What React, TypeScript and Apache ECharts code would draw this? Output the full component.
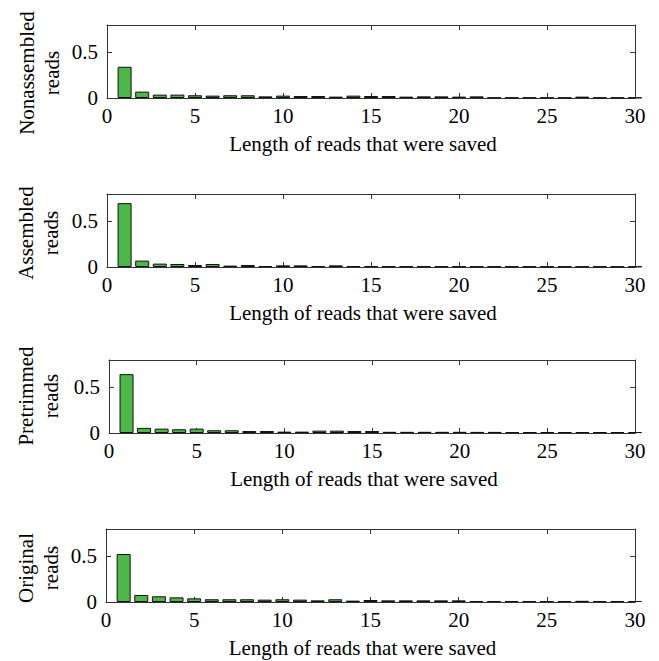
import React, { useEffect, useRef } from "react";
import * as echarts from "echarts";

const lengths = Array.from({ length: 30 }, (_, i) => i + 1);

const nonassembled = [0.342, 0.07, 0.037, 0.037, 0.03, 0.026, 0.03, 0.03, 0.018, 0.026, 0.022, 0.022, 0.015, 0.026, 0.022, 0.022, 0.015, 0.018, 0.018, 0.015, 0.018, 0.004, 0.004, 0.004, 0.004, 0.004, 0.015, 0.004, 0.004, 0.004];
const assembled = [0.70, 0.07, 0.037, 0.033, 0.022, 0.033, 0.015, 0.022, 0.011, 0.018, 0.018, 0.011, 0.018, 0.011, 0.011, 0.007, 0.007, 0.007, 0.007, 0.007, 0.006, 0.006, 0.006, 0.006, 0.006, 0.006, 0.005, 0.005, 0.005, 0.005];
const pretrimmed = [0.645, 0.056, 0.048, 0.041, 0.048, 0.03, 0.03, 0.022, 0.022, 0.015, 0.015, 0.026, 0.026, 0.022, 0.022, 0.013, 0.013, 0.013, 0.013, 0.013, 0.012, 0.012, 0.01, 0.01, 0.01, 0.01, 0.01, 0.01, 0.01, 0.01];
const original = [0.526, 0.077, 0.0625, 0.051, 0.04, 0.03, 0.03, 0.03, 0.026, 0.03, 0.026, 0.018, 0.03, 0.015, 0.022, 0.018, 0.018, 0.018, 0.018, 0.018, 0.011, 0.011, 0.011, 0.011, 0.011, 0.011, 0.013, 0.011, 0.011, 0.011];

const panelNames = ["Nonassembled\nreads", "Assembled\nreads", "Pretrimmed\nreads", "Original\nreads"];
const panelData = [nonassembled, assembled, pretrimmed, original];
const xTitle = "Length of reads that were saved";

const FONT = '"Liberation Serif", "DejaVu Serif", serif';
const AXIS_COLOR = "#333";
const BAR_COLOR = "#4BB847";
const FS = 21;

const grids = [
  { left: 107, top: 25, width: 528, height: 73 },
  { left: 107, top: 194, width: 528, height: 73 },
  { left: 109, top: 360, width: 526, height: 73 },
  { left: 106, top: 529, width: 529, height: 73 },
];
const nameCenters = [
  { x: 39, y: 73 },
  { x: 38, y: 233 },
  { x: 38, y: 396 },
  { x: 38, y: 568 },
];

export default function App() {
  const ref = useRef<HTMLDivElement>(null);

  useEffect(() => {
    if (!ref.current) return;
    const chart = echarts.init(ref.current, undefined, { renderer: "svg" });

    const xAxes: any[] = [];
    const yAxes: any[] = [];
    const series: any[] = [];
    const graphics: any[] = [];

    grids.forEach((g, i) => {
      xAxes.push({
        type: "value",
        gridIndex: i,
        min: 0,
        max: 30,
        interval: 5,
        position: "bottom",
        axisLine: { show: true, onZero: false, lineStyle: { color: AXIS_COLOR, width: 1 } },
        axisTick: { show: true, inside: true, length: 5, lineStyle: { color: AXIS_COLOR } },
        axisLabel: { show: true, margin: 7, color: "#000", fontSize: FS, fontFamily: FONT },
        splitLine: { show: false },
        name: xTitle,
        nameLocation: "middle",
        nameGap: 35,
        nameTextStyle: { color: "#000", fontSize: FS, fontFamily: FONT, padding: [0, 16, 0, 0] },
      });
      xAxes.push({
        type: "value",
        gridIndex: i,
        min: 0,
        max: 30,
        interval: 5,
        position: "top",
        axisLine: { show: true, onZero: false, lineStyle: { color: AXIS_COLOR, width: 1 } },
        axisTick: { show: true, inside: true, length: 5, lineStyle: { color: AXIS_COLOR } },
        axisLabel: { show: false },
        splitLine: { show: false },
      });
      const yFmt = (v: number) => (v === 0 ? "0" : Math.abs(v - 0.5) < 1e-9 ? "0.5" : "");
      yAxes.push({
        type: "value",
        gridIndex: i,
        min: 0,
        max: 0.8,
        interval: 0.5,
        position: "left",
        axisLine: { show: true, onZero: false, lineStyle: { color: AXIS_COLOR, width: 1 } },
        axisTick: { show: true, inside: true, length: 5, lineStyle: { color: AXIS_COLOR } },
        axisLabel: { show: true, margin: 9, color: "#000", fontSize: FS, fontFamily: FONT, formatter: yFmt, showMaxLabel: false },
        splitLine: { show: false },
      });
      yAxes.push({
        type: "value",
        gridIndex: i,
        min: 0,
        max: 0.8,
        interval: 0.5,
        position: "right",
        axisLine: { show: true, onZero: false, lineStyle: { color: AXIS_COLOR, width: 1 } },
        axisTick: { show: true, inside: true, length: 5, lineStyle: { color: AXIS_COLOR } },
        axisLabel: { show: false },
        splitLine: { show: false },
      });
      series.push({
        type: "bar",
        xAxisIndex: i * 2,
        yAxisIndex: i * 2,
        data: lengths.map((l, k) => [l, panelData[i][k]]),
        barWidth: 14,
        clip: true,
        itemStyle: { color: BAR_COLOR, borderColor: "#111", borderWidth: 1 },
      });
      graphics.push({
        type: "text",
        x: nameCenters[i].x,
        y: nameCenters[i].y,
        rotation: Math.PI / 2,
        style: {
          text: panelNames[i],
          x: 0,
          y: 0,
          align: "center",
          verticalAlign: "middle",
          textAlign: "center",
          textVerticalAlign: "middle",
          font: `${FS}px ${FONT}`,
          lineHeight: 25,
          fill: "#000",
        },
      });
    });

    chart.setOption({
      animation: false,
      backgroundColor: "#fff",
      grid: grids.map((g) => ({ ...g, containLabel: false })),
      xAxis: xAxes,
      yAxis: yAxes,
      series,
      graphic: graphics,
    });

    return () => chart.dispose();
  }, []);

  return (
    <div
      ref={ref}
      style={{ position: "fixed", left: 0, top: 0, width: 659, height: 661, background: "#fff" }}
    />
  );
}
